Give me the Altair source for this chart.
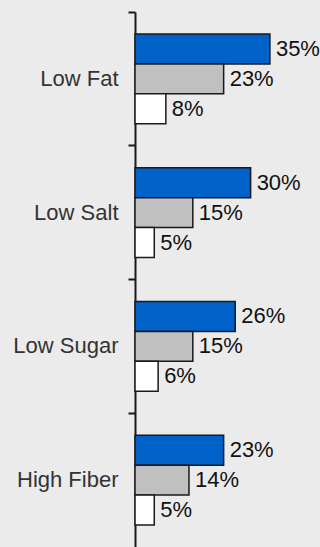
import altair as alt
import pandas as pd

categories = ["Low Fat", "Low Salt", "Low Sugar", "High Fiber"]
series = ["A", "B", "C"]
values_a = [35, 30, 26, 23]
values_b = [23, 15, 15, 14]
values_c = [8, 5, 6, 5]
colors = ["#0061c9", "#c0c0c0", "#ffffff"]

rows = []
for i, cat in enumerate(categories):
    for s, vals in zip(series, [values_a, values_b, values_c]):
        rows.append({"category": cat, "series": s, "value": vals[i],
                     "label": f"{vals[i]}%"})
df = pd.DataFrame(rows)

y_enc = alt.Y("category:N", sort=categories,
              scale=alt.Scale(paddingInner=0, paddingOuter=0),
              axis=alt.Axis(title=None, bandPosition=0, tickSize=7, tickWidth=2,
                            tickColor="#1a1a1a", domainColor="#1a1a1a",
                            domainWidth=2, labelPadding=10, labelFontSize=22,
                            labelFont="Liberation Sans", labelColor="#333333",
                            labelBound=False, grid=False))
yoff = alt.YOffset("series:N", sort=series,
                   scale=alt.Scale(paddingInner=0, paddingOuter=0.73))
x_enc = alt.X("value:Q", scale=alt.Scale(domain=[0, 48]), axis=None)

bars = alt.Chart(df).mark_bar(stroke="#1a1a1a", strokeWidth=1.5).encode(
    y=y_enc, yOffset=yoff, x=x_enc,
    color=alt.Color("series:N", sort=series,
                    scale=alt.Scale(domain=series, range=colors), legend=None),
)

labels = alt.Chart(df).mark_text(align="left", baseline="middle", dx=6,
                                 fontSize=22, font="Liberation Sans",
                                 color="#111111").encode(
    y=alt.Y("category:N", sort=categories), yOffset=yoff, x=x_enc,
    text="label:N",
)

chart = alt.layer(bars, labels).properties(
    width=185, height=535,
    padding={"left": 135, "top": 12, "right": 0, "bottom": 0},
    autosize=alt.AutoSizeParams(type="none"),
    background="#ebebeb",
).configure_view(stroke=None)

chart.save("out.html", embed_options={"renderer": "svg", "actions": False})
